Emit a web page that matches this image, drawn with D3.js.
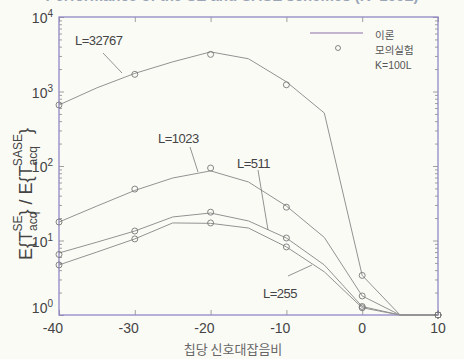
<!DOCTYPE html>
<html>
<head>
<meta charset="utf-8">
<script src="https://cdn.jsdelivr.net/npm/d3@7"></script>
<style>
  body { margin: 0; background: #fbfbf6; }
  text { font-family: "Liberation Sans", Arial, sans-serif; fill: #444; }
</style>
</head>
<body>
<div id="app"></div>
<script>
// chip SNR (dB)
const snrLine = [-40, -35, -30, -25, -20, -15, -10, -5, 0, 5, 10]
const snrSim = [-40, -30, -20, -10, 0, 10]

// theory curves, E(T_SE)/E(T_SASE)
const theory32767 = [660, 1120, 1750, 2500, 3400, 2750, 1350, 515, 3.4, 1, 1]
const theory1023 = [17.7, 29, 47, 69, 86, 61, 29, 11, 1.8, 1, 1]
const theory511 = [6.8, 9.5, 13.4, 20.7, 23.4, 18.3, 10.8, 4.7, 1.3, 1, 1]
const theory255 = [4.7, 7, 10.5, 17.2, 17, 14.7, 8.2, 3.8, 1.25, 1, 1]

// simulation points
const sim32767 = [660, 1700, 3150, 1230, 3.4, 1]
const sim1023 = [17.7, 49, 94, 28, 1.8, 1]
const sim511 = [6.5, 13.4, 24, 10.8, 1.3, 1]
const sim255 = [4.7, 10.5, 17.2, 8.2, 1.25, 1]

const xTicks = [-40, -30, -20, -10, 0, 10]
const yTicks = [1, 10, 100, 1000, 10000]

var w = 464, h = 359
const plotL = 59, plotR = 438, plotT = 17, plotB = 315

const svg = d3.select("#app").append("svg")
    .attr("width", w).attr("height", h)

const x = d3.scaleLinear().domain([-40, 10]).range([plotL, plotR])
const y = d3.scaleLog().domain([1, 10000]).range([plotB, plotT])

// title, cut off by the top edge as in the scan
svg.append("text")
    .attr("x", 232).attr("y", 1)
    .attr("text-anchor", "middle")
    .style("font-size", "15px").style("font-weight", "bold")
    .style("fill", "#9aa6b6")
    .text("Performance of the SE and SASE schemes (K=100L)")

// minor log ticks
const minor = []
for (let k = 0; k < 4; k++) for (let m = 2; m < 10; m++) minor.push(m * Math.pow(10, k))

const frameCol = "#8f88c4"

function styleAxis(g) {
    g.select(".domain").remove()
    g.selectAll("line").attr("stroke", "#888").attr("stroke-width", 0.8)
    g.selectAll("text").remove()
}

svg.append("g").attr("transform", `translate(0,${plotB})`)
    .call(d3.axisBottom(x).tickValues(xTicks).tickSize(-5)).call(styleAxis)
svg.append("g").attr("transform", `translate(0,${plotT})`)
    .call(d3.axisTop(x).tickValues(xTicks).tickSize(-5)).call(styleAxis)
svg.append("g").attr("transform", `translate(${plotL},0)`)
    .call(d3.axisLeft(y).tickValues(yTicks).tickSize(-5)).call(styleAxis)
svg.append("g").attr("transform", `translate(${plotL},0)`)
    .call(d3.axisLeft(y).tickValues(minor).tickSize(-3)).call(styleAxis)
svg.append("g").attr("transform", `translate(${plotR},0)`)
    .call(d3.axisRight(y).tickValues(yTicks).tickSize(-5)).call(styleAxis)
svg.append("g").attr("transform", `translate(${plotR},0)`)
    .call(d3.axisRight(y).tickValues(minor).tickSize(-3)).call(styleAxis)

// frame
svg.append("rect")
    .attr("x", plotL).attr("y", plotT)
    .attr("width", plotR - plotL).attr("height", plotB - plotT)
    .attr("fill", "none").attr("stroke", frameCol).attr("stroke-width", 1.3)

// x tick labels
svg.selectAll(".xl").data(xTicks).enter().append("text")
    .attr("x", d => d < 0 ? x(d) + 4 : x(d))
    .attr("y", 333)
    .attr("text-anchor", d => d < 0 ? "end" : "middle")
    .style("font-size", "14px")
    .text(d => d < 0 ? "-" + Math.abs(d) : d)

// y tick labels 10^k
const yl = svg.selectAll(".yl").data(yTicks).enter().append("text")
    .attr("x", 53)
    .attr("y", d => d === 1 ? 313 : y(d) + 6)
    .attr("text-anchor", "end")
    .style("font-size", "14px")
yl.append("tspan").text("10")
yl.append("tspan").attr("dy", -6).style("font-size", "10px").text(d => Math.round(Math.log10(d)))

// y axis label
const ylab = svg.append("text")
    .attr("transform", "translate(32,194) rotate(-90)")
    .attr("text-anchor", "middle")
    .style("font-size", "18px")
ylab.append("tspan").text("E{T")
ylab.append("tspan").attr("dy", 5).style("font-size", "12px").text("acq")
ylab.append("tspan").attr("dx", -20).attr("dy", -15).style("font-size", "12px").text("SE")
ylab.append("tspan").attr("dy", 10).text("} / E{T")
ylab.append("tspan").attr("dy", 5).style("font-size", "12px").text("acq")
ylab.append("tspan").attr("dx", -20).attr("dy", -15).style("font-size", "12px").text("SASE")
ylab.append("tspan").attr("dy", 10).text("}")

// x axis label
svg.append("text")
    .attr("x", 233).attr("y", 354)
    .attr("text-anchor", "middle")
    .style("font-size", "13px").style("fill", "#666")
    .style("font-family", "'Noto Sans CJK KR', sans-serif")
    .text("칩당 신호대잡음비")

const line = d3.line().x((d, i) => x(snrLine[i])).y(d => y(d))

const curves = [theory32767, theory1023, theory511, theory255]
const sims = [sim32767, sim1023, sim511, sim255]

svg.selectAll(".curve").data(curves).enter().append("path")
    .attr("d", line)
    .attr("fill", "none")
    .attr("stroke", "#929292")
    .attr("stroke-width", 1)

sims.forEach(s => {
    svg.selectAll(null).data(s).enter().append("circle")
        .attr("cx", (d, i) => x(snrSim[i]))
        .attr("cy", d => y(d))
        .attr("r", 3)
        .attr("fill", "none")
        .attr("stroke", "#777")
        .attr("stroke-width", 0.9)
})

// curve labels with leader lines
const labels = [
    { t: "L=32767", x: 75, y: 45, l: [103, 53, 122, 73] },
    { t: "L=1023", x: 158, y: 143, l: [190, 147, 198, 172] },
    { t: "L=511", x: 237, y: 168, l: [258, 170, 268, 230] },
    { t: "L=255", x: 263, y: 298, l: [288, 276, 312, 265] }
]
labels.forEach(d => {
    svg.append("text").attr("x", d.x).attr("y", d.y)
        .style("font-size", "13px").style("letter-spacing", "-0.5px")
        .text(d.t)
    svg.append("line")
        .attr("x1", d.l[0]).attr("y1", d.l[1]).attr("x2", d.l[2]).attr("y2", d.l[3])
        .attr("stroke", "#777").attr("stroke-width", 0.8)
})

// legend
const legend = svg.append("g")
legend.append("line").attr("x1", 310).attr("x2", 363).attr("y1", 33).attr("y2", 33)
    .attr("stroke", "#8c6fa8").attr("stroke-width", 1.2)
legend.append("circle").attr("cx", 338).attr("cy", 48).attr("r", 2.5)
    .attr("fill", "none").attr("stroke", "#777").attr("stroke-width", 0.9)
const legTexts = ["이론", "모의실험", "K=100L"]
legend.selectAll("text").data(legTexts).enter().append("text")
    .attr("x", 375).attr("y", (d, i) => 39 + i * 15)
    .style("font-size", "10.5px").style("fill", "#555")
    .style("font-family", (d, i) => i < 2 ? "'Noto Sans CJK KR', sans-serif" : "'Liberation Sans', Arial, sans-serif")
    .text(d => d)
</script>
</body>
</html>
